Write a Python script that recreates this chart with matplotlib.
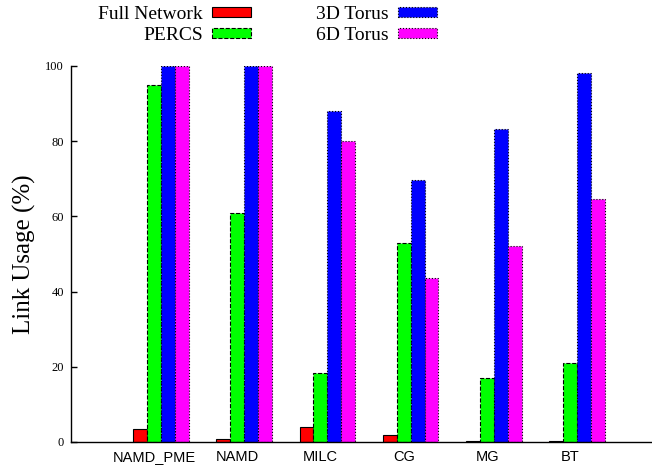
import numpy as np
import matplotlib
matplotlib.use("Agg")
import matplotlib.pyplot as plt

# link usage per benchmark for each topology
benchmarks = ["NAMD_PME", "NAMD", "MILC", "CG", "MG", "BT"]
full_network = [3.5, 0.8, 4.0, 1.8, 0.15, 0.3]
percs = [95.0, 60.8, 18.4, 53.0, 17.0, 21.0]
torus_3d = [100.0, 100.0, 88.0, 69.8, 83.3, 98.2]
torus_6d = [100.0, 100.0, 80.0, 43.7, 52.0, 64.5]

series = [
    ("Full Network", full_network, "#ff0000", "-"),
    ("PERCS", percs, "#00ff00", "--"),
    ("3D Torus", torus_3d, "#0000ff", ":"),
    ("6D Torus", torus_6d, "#ff00ff", ":"),
]

serif = ["Liberation Serif", "DejaVu Serif"]
sans = ["Liberation Sans", "DejaVu Sans"]

fig = plt.figure(figsize=(6.52, 4.68), dpi=100)
ax = fig.add_axes([71 / 652, 26 / 468, 1 - 71 / 652, (442 - 66) / 468])

x = np.arange(len(benchmarks))
w = 0.167
offsets = [-1.5, -0.5, 0.5, 1.5]
handles = []
for (name, vals, color, ls), off in zip(series, offsets):
    b = ax.bar(x + off * w, vals, width=w, color=color,
               edgecolor="black", linewidth=0.8, linestyle=ls, label=name)
    handles.append(b)

ax.set_xlim(-1.08, 5.9)
ax.set_ylim(0, 100)

for side in ["top", "right"]:
    ax.spines[side].set_visible(False)
ax.spines["left"].set_linewidth(1.0)
ax.spines["bottom"].set_linewidth(1.0)

ax.set_yticks([0, 20, 40, 60, 80, 100])
ax.tick_params(axis="y", direction="in", length=4, width=1, pad=5)
for t in ax.get_yticklabels():
    t.set_family(serif)
    t.set_fontsize(9)

ax.set_xticks(x - 0.08)
ax.set_xticklabels(benchmarks, family=sans, fontsize=10.5)
ax.tick_params(axis="x", length=0, pad=6)

ax.set_ylabel("Link Usage (%)", family=serif, fontsize=18, labelpad=7)

fig.legend(handles=handles, labels=[s[0] for s in series], ncol=2,
           loc="upper left", bbox_to_anchor=(98 / 652, 1 - 6 / 468),
           frameon=False, markerfirst=False, prop={"family": serif, "size": 14},
           handlelength=2.0, handleheight=0.42, handletextpad=0.5,
           labelspacing=0.18, columnspacing=3.3, borderpad=0, borderaxespad=0)

fig.savefig("out.png", dpi=100)
